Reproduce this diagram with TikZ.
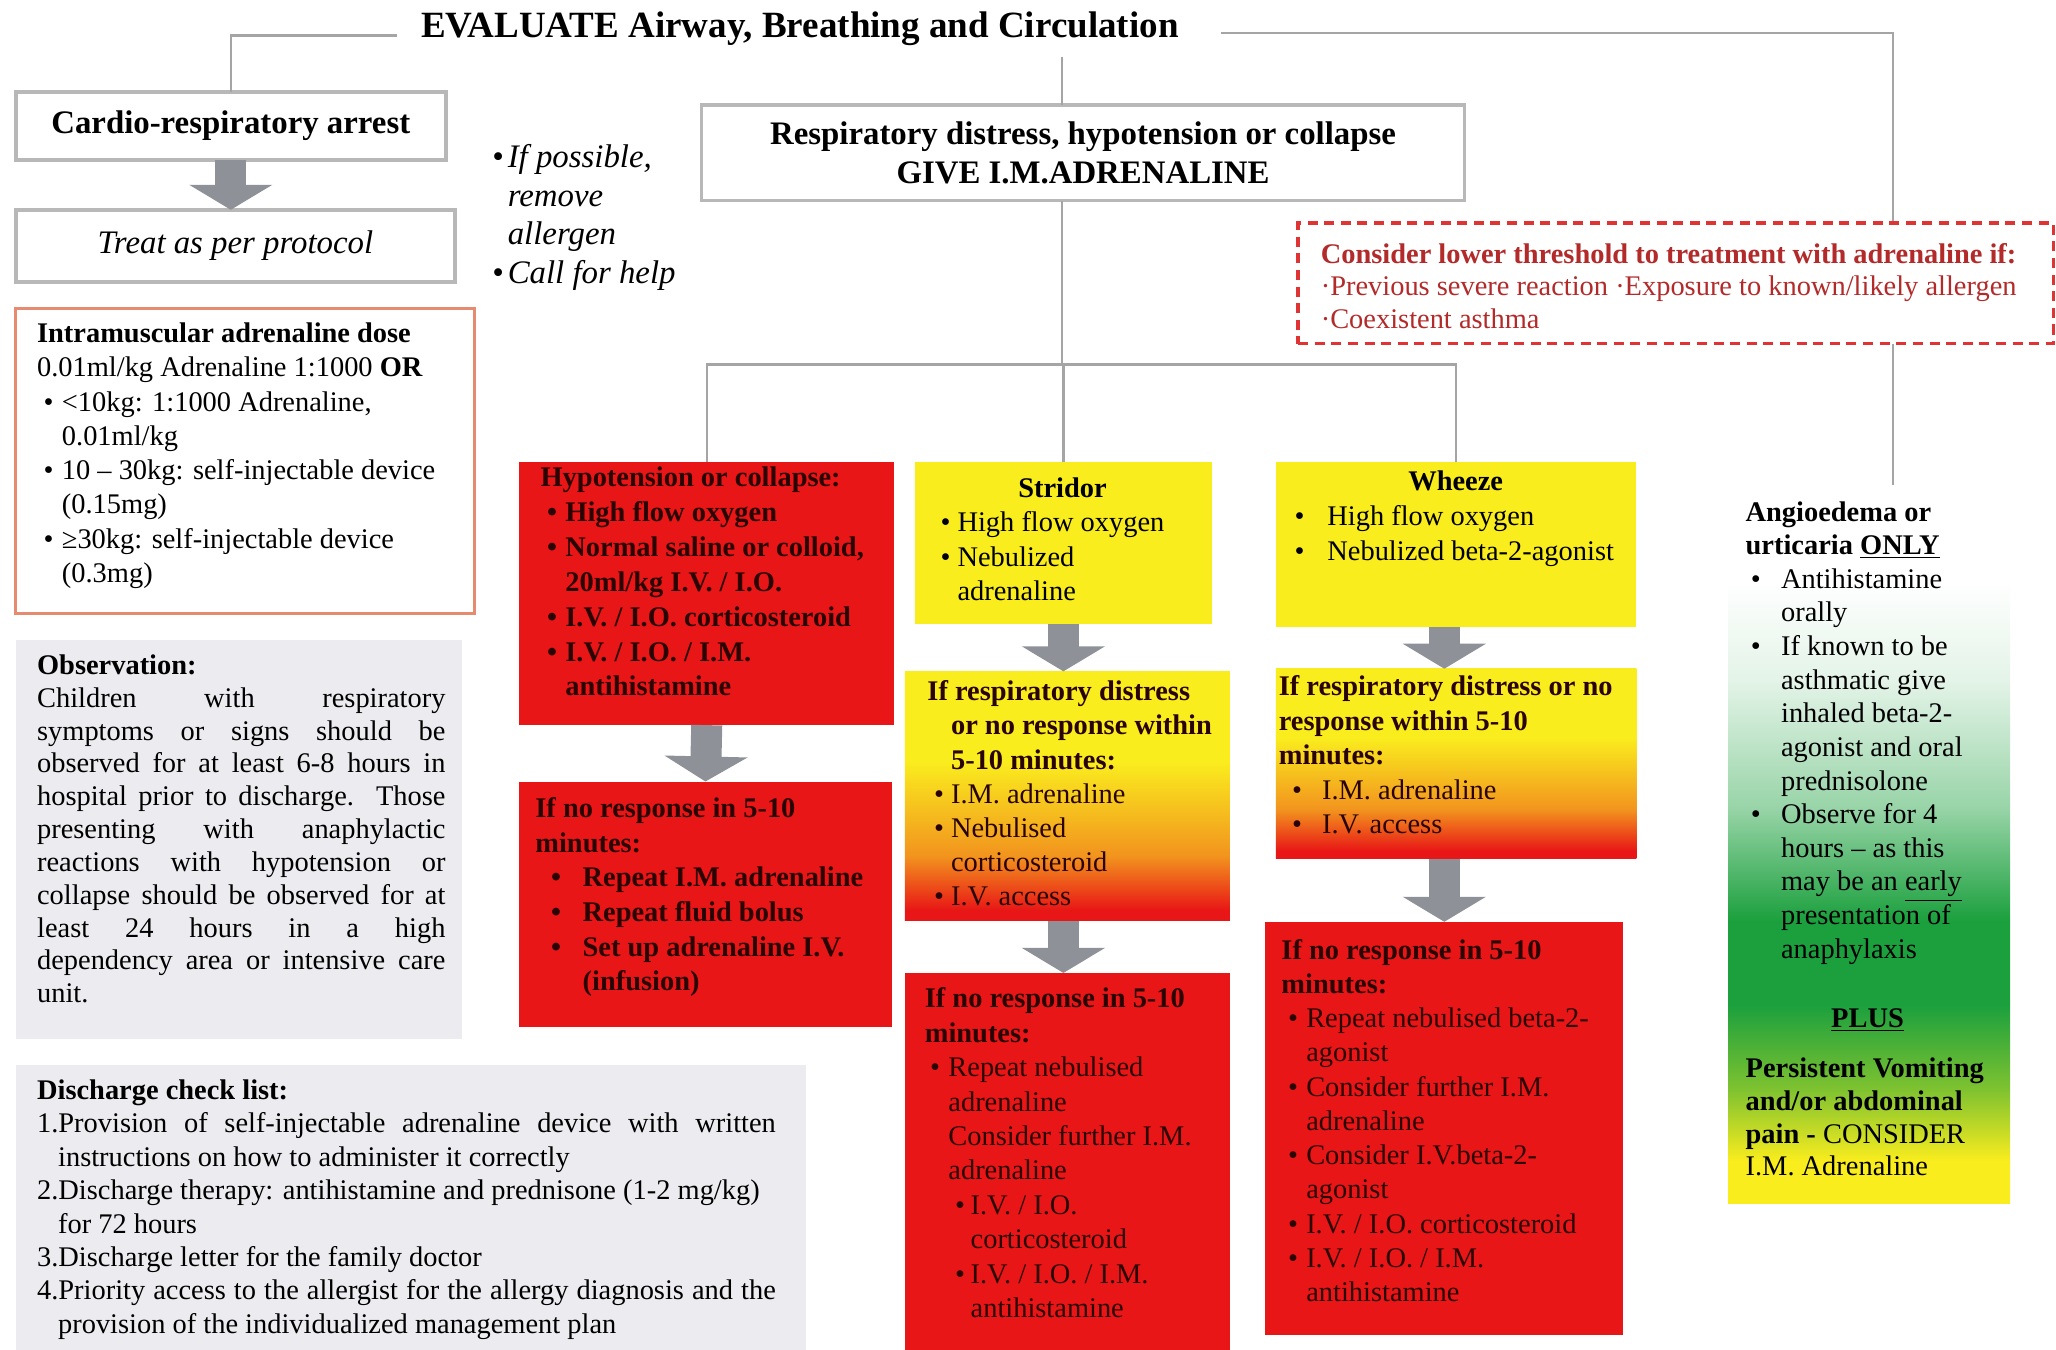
\documentclass[tikz,border=0pt]{standalone}
\usepackage{fontspec}
\setmainfont{Liberation Serif}
\usetikzlibrary{arrows.meta,calc}

\definecolor{alarmred}{RGB}{232,22,22}
\definecolor{signyellow}{RGB}{250,237,30}
\definecolor{signorange}{RGB}{242,148,30}
\definecolor{signgreen}{RGB}{28,160,62}
\definecolor{panelgrey}{RGB}{236,236,240}
\definecolor{linkgrey}{RGB}{165,165,165}
\definecolor{arrowgrey}{RGB}{142,146,152}
\definecolor{dosecol}{RGB}{230,138,112}
\definecolor{alertcol}{RGB}{224,52,52}
\definecolor{inkred}{RGB}{42,4,4}
\colorlet{limegreen}{signyellow!45!signgreen}
\colorlet{palegreen}{signgreen!45!white}
\colorlet{mistgreen}{signgreen!12!white}

\pgfdeclareverticalshading{warmfade}{100bp}{color(0bp)=(alarmred); color(27bp)=(alarmred); color(38bp)=(signorange); color(57bp)=(signyellow); color(100bp)=(signyellow)}
\pgfdeclareverticalshading{greenfade}{100bp}{color(0bp)=(signyellow); color(28bp)=(signyellow); color(33bp)=(limegreen); color(39bp)=(signgreen); color(45bp)=(signgreen); color(53bp)=(palegreen); color(62bp)=(mistgreen); color(69bp)=(white); color(100bp)=(white)}

\newcommand\bul[2]{\hspace*{#1}\makebox[#2][l]{\textbullet}}
\newcommand\spread[2]{\makebox[#1][s]{#2}}

\begin{document}
\begin{tikzpicture}[
  x=0.655pt, y=-0.655pt,
  sz/.style 2 args={minimum width=#1*0.655pt, minimum height=#2*0.655pt},
  box/.style={anchor=north west, inner sep=0pt, outer sep=0pt},
  framed/.style={box, draw=black!28, line width=1.8pt, fill=white, align=center},
  redbox/.style={box, fill=alarmred},
  yelbox/.style={box, fill=signyellow},
  warmbox/.style={box, shade, shading=warmfade},
  greybox/.style={box, fill=panelgrey},
  txt/.style={anchor=north west, inner sep=0pt, align=left, font=\fontsize{14.2}{#1}\selectfont},
  txt/.default=17.1,
  btxt/.style={txt, font=\bfseries\fontsize{14.2}{#1}\selectfont},
  btxt/.default=17.1,
  ink/.style={text=inkred},
  link/.style={draw=linkgrey, line width=1.1pt},
  fat/.style={draw=arrowgrey, line width=15.5pt, -{Triangle[width=41pt,length=12.5pt]}}
]
\fill[white] (0,0) rectangle (1568,1029);
\useasboundingbox (0,0) rectangle (1568,1029);

% === Title and first level ===
\node[inner sep=0pt, font=\bfseries\fontsize{18.5}{22}\selectfont] (eval) at (610,22) {EVALUATE Airway, Breathing and Circulation};

\node[framed, sz={328}{52}, font=\bfseries\fontsize{16.4}{19.7}\selectfont] (cardio) at (12,70) {Cardio-respiratory arrest};
\node[framed, sz={335}{55}, font=\itshape\fontsize{16.4}{19.7}\selectfont] (treat) at (12,160) {Treat as per protocol};
\node[framed, sz={582}{73}, font=\bfseries\fontsize{16.4}{19.2}\selectfont] (resp) at (535,80) {Respiratory distress, hypotension or collapse\\GIVE I.M.ADRENALINE};

% Advice next to the arrest branch
\node[txt=19.2, font=\itshape\fontsize{16.4}{19.2}\selectfont] (tips) at (372,110)
  {\bul{2pt}{7.8pt}If possible,\\\hspace*{9.8pt}remove\\\hspace*{9.8pt}allergen\\\bul{2pt}{7.8pt}Call for help};

% === Left column panels ===
\node[box, draw=dosecol, line width=1.4pt, fill=white, sz={350}{233}] (dose) at (12,235) {};
\node[txt] (dosetxt) at (28,246)
  {\textbf{Intramuscular adrenaline dose}\\
   0.01ml/kg Adrenaline 1:1000 \textbf{OR}\\
   \bul{3.3pt}{9.1pt}<10kg: 1:1000 Adrenaline,\\
   \hspace*{12.4pt}0.01ml/kg\\
   \bul{3.3pt}{9.1pt}10 – 30kg: self-injectable device\\
   \hspace*{12.4pt}(0.15mg)\\
   \bul{3.3pt}{9.1pt}≥30kg: self-injectable device\\
   \hspace*{12.4pt}(0.3mg)};

\node[greybox, sz={340}{304}] (obs) at (12,488) {};
\node[txt=16.4] (obstxt) at (28,499)
  {\textbf{Observation:}\\
   \spread{204pt}{Children with respiratory}\\
   \spread{204pt}{symptoms or signs should be}\\
   \spread{204pt}{observed for at least 6-8 hours in}\\
   \spread{204pt}{hospital prior to discharge. Those}\\
   \spread{204pt}{presenting with anaphylactic}\\
   \spread{204pt}{reactions with hypotension or}\\
   \spread{204pt}{collapse should be observed for at}\\
   \spread{204pt}{least 24 hours in a high}\\
   \spread{204pt}{dependency area or intensive care}\\
   unit.};

\node[greybox, sz={603}{222}] (disch) at (12,812) {};
\node[txt=16.7] (dischtxt) at (28,823)
  {\textbf{Discharge check list:}\\
   \spread{369pt}{1.Provision of self-injectable adrenaline device with written}\\
   \hspace*{10.5pt}instructions on how to administer it correctly\\
   2.Discharge therapy: antihistamine and prednisone (1-2 mg/kg)\\
   \hspace*{10.5pt}for 72 hours\\
   3.Discharge letter for the family doctor\\
   \spread{369pt}{4.Priority access to the allergist for the allergy diagnosis and the}\\
   \hspace*{10.5pt}provision of the individualized management plan};

% === Hypotension branch ===
\node[redbox, sz={286}{201}] (hypo) at (396,352) {};
\node[btxt=17.4, ink] (hypotxt) at (412,356)
  {Hypotension or collapse:\\
   \bul{3.3pt}{9.1pt}High flow oxygen\\
   \bul{3.3pt}{9.1pt}Normal saline or colloid,\\
   \hspace*{12.4pt}20ml/kg I.V. / I.O.\\
   \bul{3.3pt}{9.1pt}I.V. / I.O. corticosteroid\\
   \bul{3.3pt}{9.1pt}I.V. / I.O. / I.M.\\
   \hspace*{12.4pt}antihistamine};

\node[redbox, sz={284}{187}] (hypoB) at (396,596) {};
\node[btxt=17.3, ink] (hypoBtxt) at (408,608)
  {If no response in 5-10\\
   minutes:\\
   \bul{7.9pt}{15.7pt}Repeat I.M. adrenaline\\
   \bul{7.9pt}{15.7pt}Repeat fluid bolus\\
   \bul{7.9pt}{15.7pt}Set up adrenaline I.V.\\
   \hspace*{23.6pt}(infusion)};

% === Stridor branch ===
\node[yelbox, sz={226}{124}] (strid) at (698,352) {};
\node[txt=17.2] (stridtxt) at (717,364)
  {\makebox[121.8pt][c]{\textbf{Stridor}}\\
   \bul{0pt}{8.5pt}High flow oxygen\\
   \bul{0pt}{8.5pt}Nebulized\\
   \hspace*{8.5pt}adrenaline};

\node[warmbox, sz={248}{190}] (stridB) at (690,512) {};
\node[txt=17.0, ink] (stridBtxt) at (707,519)
  {\textbf{If respiratory distress}\\
   \hspace*{11.8pt}\textbf{or no response within}\\
   \hspace*{11.8pt}\textbf{5-10 minutes:}\\
   \bul{3.3pt}{8.5pt}I.M. adrenaline\\
   \bul{3.3pt}{8.5pt}Nebulised\\
   \hspace*{11.8pt}corticosteroid\\
   \bul{3.3pt}{8.5pt}I.V. access};

\node[redbox, sz={248}{290}] (stridC) at (690,742) {};
\node[txt=17.2, ink] (stridCtxt) at (705,753)
  {\textbf{If no response in 5-10}\\
   \textbf{minutes:}\\
   \bul{2.6pt}{9.2pt}Repeat nebulised\\
   \hspace*{11.8pt}adrenaline\\
   \hspace*{11.8pt}Consider further I.M.\\
   \hspace*{11.8pt}adrenaline\\
   \bul{15.1pt}{7.8pt}I.V. / I.O.\\
   \hspace*{22.9pt}corticosteroid\\
   \bul{15.1pt}{7.8pt}I.V. / I.O. / I.M.\\
   \hspace*{22.9pt}antihistamine};

% === Wheeze branch ===
\node[yelbox, sz={275}{126}] (whz) at (973,352) {};
\node[txt=17.4] (whztxt) at (987,359)
  {\makebox[161pt][c]{\textbf{Wheeze}}\\
   \bul{0pt}{16.4pt}High flow oxygen\\
   \bul{0pt}{16.4pt}Nebulized beta-2-agonist};

\node[warmbox, sz={275}{145}] (whzB) at (973,510) {};
\node[txt=17.2, ink] (whzBtxt) at (975,515)
  {\textbf{If respiratory distress or no}\\
   \textbf{response within 5-10}\\
   \textbf{minutes:}\\
   \bul{6.6pt}{15pt}I.M. adrenaline\\
   \bul{6.6pt}{15pt}I.V. access};

\node[redbox, sz={273}{315}] (whzC) at (965,703) {};
\node[txt=17.1, ink] (whzCtxt) at (977,716)
  {\textbf{If no response in 5-10}\\
   \textbf{minutes:}\\
   \bul{3.3pt}{9.1pt}Repeat nebulised beta-2-\\
   \hspace*{12.4pt}agonist\\
   \bul{3.3pt}{9.1pt}Consider further I.M.\\
   \hspace*{12.4pt}adrenaline\\
   \bul{3.3pt}{9.1pt}Consider I.V.beta-2-\\
   \hspace*{12.4pt}agonist\\
   \bul{3.3pt}{9.1pt}I.V. / I.O. corticosteroid\\
   \bul{3.3pt}{9.1pt}I.V. / I.O. / I.M.\\
   \hspace*{12.4pt}antihistamine};

% === Angioedema branch ===
\node[box, shade, shading=greenfade, sz={215}{540}] (angio) at (1318,378) {};
\node[txt=16.8] (angiotxt) at (1331,382)
  {\textbf{Angioedema or}\\
   \textbf{urticaria \underline{ONLY}}\\
   \bul{2.6pt}{15.1pt}Antihistamine\\
   \hspace*{17.7pt}orally\\
   \bul{2.6pt}{15.1pt}If known to be\\
   \hspace*{17.7pt}asthmatic give\\
   \hspace*{17.7pt}inhaled beta-2-\\
   \hspace*{17.7pt}agonist and oral\\
   \hspace*{17.7pt}prednisolone\\
   \bul{2.6pt}{15.1pt}Observe for 4\\
   \hspace*{17.7pt}hours – as this\\
   \hspace*{17.7pt}may be an \underline{early}\\
   \hspace*{17.7pt}presentation of\\
   \hspace*{17.7pt}anaphylaxis};
\node[txt=16.4] (plustxt) at (1331,769)
  {\makebox[121.8pt][c]{\textbf{\underline{PLUS}}}\\[8.5pt]
   \textbf{Persistent Vomiting}\\
   \textbf{and/or abdominal}\\
   \textbf{pain -} CONSIDER\\
   I.M. Adrenaline};

% Connectors
\coordinate (bus) at (810,278);
\draw[link] ([shift={(-18,5)}]eval.west) -| (cardio.north);
\draw[link] ([shift={(32,3)}]eval.east) -| ([shift={(18,-8)}]angio.north);
\draw[link] ($(eval.south -| bus)+(0,8)$) -- (resp.north -| bus);
\draw[link] (resp.south -| bus) -- (bus);
\draw[link] (hypo.north) |- (bus) -| (whz.north);
\draw[link] (strid.north) -- (strid.north |- bus);

% Block arrows
\draw[fat] (cardio.south) -- (cardio.south |- treat.north);
\draw[fat] (hypo.south) -- (hypoB.north);
\draw[fat] (strid.south) -- (strid.south |- stridB.north);
\draw[fat] (stridB.south -| strid.south) -- (stridC.north -| strid.south);
\draw[fat] (whz.south -| whzC.north) -- (whzB.north -| whzC.north);
\draw[fat] (whzB.south -| whzC.north) -- (whzC.north);

% Threshold note, drawn over the right-hand line
\node[box, draw=alertcol, line width=1.9pt, dash pattern=on 5pt off 3.3pt, fill=white, sz={576}{92}] (alert) at (990,170) {};
\node[txt=16.4, text=alertcol!80!black] (alerttxt) at (1007,185)
  {\textbf{Consider lower threshold to treatment with adrenaline if:}\\
   ·Previous severe reaction ·Exposure to known/likely allergen\\
   ·Coexistent asthma};

\end{tikzpicture}
\end{document}
